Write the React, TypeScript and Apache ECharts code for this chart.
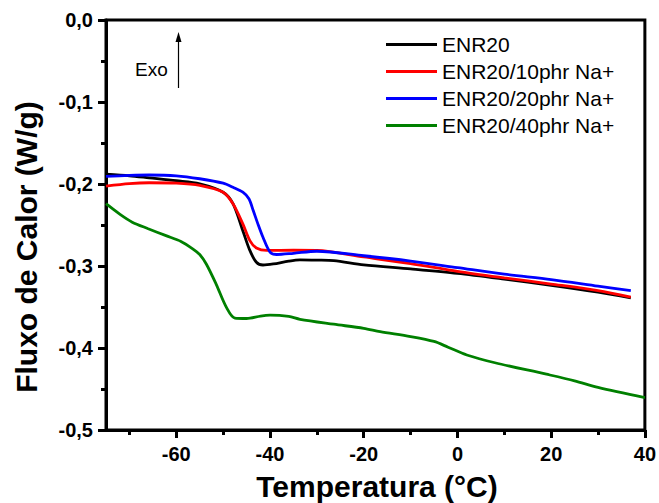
import React, { useEffect, useRef } from 'react';
import * as echarts from 'echarts';

const FONT = '"Liberation Sans", Arial, Helvetica, sans-serif';

const seriesNames = ['ENR20', 'ENR20/10phr Na+', 'ENR20/20phr Na+', 'ENR20/40phr Na+'];
const seriesColors = ['#000000', '#ff0000', '#0000ff', '#008000'];

const enr20: [number, number][] = [
  [-75, -0.188], [-70, -0.19], [-65.8, -0.1925], [-60, -0.196], [-55, -0.1997],
  [-50, -0.21], [-47.9, -0.224], [-45.8, -0.257], [-44.3, -0.281], [-42.9, -0.2955],
  [-41.5, -0.2988], [-39.3, -0.2975], [-36, -0.294], [-33.6, -0.2925], [-30, -0.2928],
  [-26.4, -0.2934], [-20, -0.2985], [-10, -0.3035], [0, -0.309], [10, -0.316],
  [20, -0.3235], [30, -0.332], [37, -0.339],
];

const enr20_10: [number, number][] = [
  [-75, -0.2025], [-70, -0.1995], [-65.8, -0.1985], [-60, -0.199], [-55, -0.2017],
  [-50, -0.21], [-47.9, -0.224], [-45.8, -0.2486], [-44.3, -0.269], [-42.9, -0.278],
  [-40.7, -0.281], [-35, -0.2808], [-30, -0.281], [-20, -0.289], [-10, -0.297],
  [0, -0.3065], [10, -0.3145], [20, -0.322], [30, -0.33], [37, -0.338],
];

const enr20_20: [number, number][] = [
  [-75, -0.1907], [-70, -0.1895], [-65.8, -0.189], [-60, -0.19], [-55, -0.1936],
  [-50, -0.199], [-47.9, -0.204], [-45.8, -0.21], [-44.5, -0.218], [-43.6, -0.232],
  [-42.5, -0.25], [-41.5, -0.265], [-40, -0.283], [-38.6, -0.286], [-35, -0.2845],
  [-30, -0.282], [-20, -0.2875], [-10, -0.294], [0, -0.302], [10, -0.31],
  [20, -0.3165], [30, -0.3245], [37, -0.33],
];

const enr20_40: [number, number][] = [
  [-75, -0.224], [-72, -0.237], [-69.4, -0.2465], [-66, -0.2545], [-62.2, -0.263],
  [-59, -0.27], [-56.5, -0.279], [-55, -0.286], [-53.6, -0.2975], [-51.5, -0.322],
  [-49.3, -0.3505], [-47.5, -0.3635], [-45, -0.364], [-42, -0.361], [-40, -0.36],
  [-36, -0.3615], [-33.6, -0.365], [-26.4, -0.371], [-20, -0.376], [-16.5, -0.38],
  [-10, -0.386], [-5, -0.392], [-2, -0.399], [2, -0.4085], [8, -0.418],
  [19, -0.432], [25, -0.44], [30, -0.448], [40, -0.4605],
];

const allSeries = [enr20, enr20_10, enr20_20, enr20_40];

const xMajorTicks = [-60, -40, -20, 0, 20, 40];
const xMinorTicks = [-70, -50, -30, -10, 10, 30];

export default function App() {
  const ref = useRef<HTMLDivElement>(null);

  useEffect(() => {
    if (!ref.current) return;
    const chart = echarts.init(ref.current, null, { renderer: 'svg' });
    const option: any = {
      animation: false,
      backgroundColor: '#ffffff',
      grid: {
        left: 106, right: 14, top: 20, bottom: 73,
        show: true, borderColor: '#000', borderWidth: 3,
      },
      legend: {
        show: true,
        orient: 'vertical',
        left: 386,
        top: 31,
        padding: 0,
        icon: 'rect',
        itemWidth: 51,
        itemHeight: 3,
        itemGap: 0,
        data: seriesNames,
        textStyle: { fontSize: 21, color: '#000', fontFamily: FONT, lineHeight: 27 },
      },
      xAxis: [
        {
          type: 'value', min: -75, max: 40, position: 'bottom',
          axisLine: { show: true, onZero: false, lineStyle: { color: '#000', width: 3 } },
          axisTick: { show: true, customValues: xMajorTicks, length: 8, lineStyle: { color: '#000', width: 3 } },
          axisLabel: {
            customValues: xMajorTicks, fontSize: 20, fontWeight: 'bold', color: '#000',
            fontFamily: FONT, margin: 14,
          },
          splitLine: { show: false },
        },
        {
          type: 'value', min: -75, max: 40, position: 'bottom',
          axisLine: { show: false, onZero: false },
          axisTick: { show: true, customValues: xMinorTicks, length: 5, lineStyle: { color: '#000', width: 3 } },
          axisLabel: { show: false },
          splitLine: { show: false },
        },
      ],
      yAxis: {
        type: 'value', min: -0.5, max: 0, interval: 0.1,
        axisLine: { show: true, onZero: false, lineStyle: { color: '#000', width: 3 } },
        axisTick: { show: true, length: 8, lineStyle: { color: '#000', width: 3 } },
        minorTick: { show: true, splitNumber: 2, length: 5, lineStyle: { color: '#000', width: 3 } },
        axisLabel: {
          fontSize: 20, fontWeight: 'bold', color: '#000', fontFamily: FONT, margin: 13,
          formatter: (v: number) => v.toFixed(1).replace('.', ','),
        },
        splitLine: { show: false },
        minorSplitLine: { show: false },
      },
      series: allSeries.map((d, i) => ({
        name: seriesNames[i],
        type: 'line',
        xAxisIndex: 0,
        data: d,
        smooth: 0.3,
        symbol: 'none',
        showSymbol: false,
        lineStyle: { color: seriesColors[i], width: 2.8 },
        itemStyle: { color: seriesColors[i] },
      })),
      graphic: [
        {
          type: 'text', x: 377, y: 486,
          style: {
            text: 'Temperatura (°C)', fontSize: 30, fontWeight: 'bold', fill: '#000',
            fontFamily: FONT, align: 'center', verticalAlign: 'middle',
          },
        },
        {
          type: 'text', x: 26, y: 247, rotation: Math.PI / 2,
          style: {
            text: 'Fluxo de Calor (W/g)', fontSize: 30, fontWeight: 'bold', fill: '#000',
            fontFamily: FONT, align: 'center', verticalAlign: 'middle',
          },
        },
        {
          type: 'text', x: 135, y: 69,
          style: {
            text: 'Exo', fontSize: 19, fill: '#000', fontFamily: FONT,
            align: 'left', verticalAlign: 'middle',
          },
        },
        {
          type: 'line',
          shape: { x1: 178.5, y1: 88, x2: 178.5, y2: 40 },
          style: { stroke: '#000', lineWidth: 1.2 },
        },
        {
          type: 'polygon',
          shape: { points: [[178.5, 32], [175.5, 42], [181.5, 42]] },
          style: { fill: '#000' },
        },
      ],
    };
    chart.setOption(option);
    return () => chart.dispose();
  }, []);

  return (
    <div
      ref={ref}
      style={{ position: 'fixed', left: 0, top: 0, width: 659, height: 503, background: '#fff' }}
    />
  );
}
